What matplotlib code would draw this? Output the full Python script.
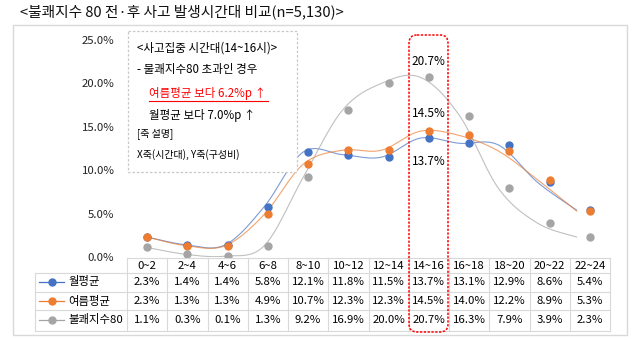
import numpy as np
import matplotlib
matplotlib.use("Agg")
import matplotlib.pyplot as plt
from matplotlib.patches import Rectangle, FancyBboxPatch
from matplotlib.lines import Line2D
from matplotlib.transforms import blended_transform_factory

plt.rcParams['font.family'] = ['Noto Sans CJK KR', 'DejaVu Sans']

categories = ["0~2", "2~4", "4~6", "6~8", "8~10", "10~12", "12~14",
              "14~16", "16~18", "18~20", "20~22", "22~24"]
monthly_avg = [2.3, 1.4, 1.4, 5.8, 12.1, 11.8, 11.5, 13.7, 13.1, 12.9, 8.6, 5.4]
summer_avg = [2.3, 1.3, 1.3, 4.9, 10.7, 12.3, 12.3, 14.5, 14.0, 12.2, 8.9, 5.3]
di80 = [1.1, 0.3, 0.1, 1.3, 9.2, 16.9, 20.0, 20.7, 16.3, 7.9, 3.9, 2.3]
series_names = ["월평균", "여름평균", "불쾌지수80"]
yticks = [0, 5, 10, 15, 20, 25]

colors = ["#4472C4", "#ED7D31", "#A5A5A5"]
series = [monthly_avg, summer_avg, di80]

W, H = 636, 340
fig = plt.figure(figsize=(W / 100, H / 100), dpi=100)

# pixel overlay axes (x: 0..W, y: 0..H top-down)
pax = fig.add_axes([0, 0, 1, 1], zorder=10)
pax.set_xlim(0, W)
pax.set_ylim(H, 0)
pax.axis("off")
pax.patch.set_alpha(0)

def fx(x):
    return x / W

def fy(y):
    return 1 - y / H

# outer border
fig.patches.append(Rectangle((fx(13), fy(335)), fx(614), (335 - 25) / H,
                             transform=fig.transFigure, fill=False,
                             edgecolor="#D9D9D9", lw=1.0, zorder=0))

fig.text(fx(20), fy(12), "<불쾌지수 80 전·후 사고 발생시간대 비교(n=5,130)>",
         fontsize=10.6, va="center", ha="left", color="#111111")

ax = fig.add_axes([fx(127), fy(257), 483 / W, (257 - 40) / H])
ax.set_xlim(-0.5, 11.5)
ax.set_ylim(0, 25)
for s in ax.spines.values():
    s.set_visible(False)
ax.set_xticks([])
ax.set_yticks(yticks)
ax.set_yticklabels([f"{v:.1f}%" for v in yticks], fontsize=8.2, color="#222222")
ax.tick_params(axis="y", length=0, pad=9)
ax.patch.set_alpha(0)


def smooth(xs, ys, n=24):
    xs = np.asarray(xs, float)
    ys = np.asarray(ys, float)
    P = np.column_stack([xs, ys])
    out = []
    for i in range(len(P) - 1):
        p0 = P[i - 1] if i > 0 else P[i]
        p1 = P[i]
        p2 = P[i + 1]
        p3 = P[i + 2] if i + 2 < len(P) else P[i + 1]
        c1 = p1 + (p2 - p0) / 6
        c2 = p2 - (p3 - p1) / 6
        t = np.linspace(0, 1, n)[:, None]
        b = ((1 - t) ** 3) * p1 + 3 * ((1 - t) ** 2) * t * c1 + 3 * (1 - t) * t ** 2 * c2 + t ** 3 * p2
        out.append(b if i == 0 else b[1:])
    B = np.vstack(out)
    return B[:, 0], B[:, 1]

xi = np.arange(len(categories))
line_scale = 0.97
for vals, c in zip(series, colors):
    sx, sy = smooth(xi * line_scale, vals)
    ax.plot(sx, sy, color=c, lw=0.8, alpha=0.7, zorder=2)
    ax.plot(xi, vals, "o", color=c, ms=5, zorder=3, mec=c)

# annotations at 14~16
k = categories.index("14~16")
ax.text(k, di80[k] + 1.8, f"{di80[k]:.1f}%", ha="center", va="center", fontsize=8.5)
ax.text(k, summer_avg[k] + 2.0, f"{summer_avg[k]:.1f}%", ha="center", va="center", fontsize=8.5)
ax.text(k, monthly_avg[k] - 2.7, f"{monthly_avg[k]:.1f}%", ha="center", va="center", fontsize=8.5)

# text box
pax.add_patch(Rectangle((128, 31), 297 - 128, 172 - 31, facecolor="white",
                        edgecolor="#C8C8C8", lw=0.9, ls=(0, (2, 1.5)), zorder=4))
tb = dict(fontsize=8.3, va="center", ha="left", zorder=5)
pax.text(137, 48, "<사고집중 시간대(14~16시)>", **tb)
pax.text(137, 70, "- 불쾌지수80 초과인 경우", **tb)
pax.text(149, 94, "여름평균 보다 6.2%p ↑", color="#FF0000", **tb)
pax.text(149, 115, "월평균 보다 7.0%p ↑", **tb)
pax.text(137, 134, "[축 설명]", **dict(tb, fontsize=7.2))
pax.text(137, 155, "X축(시간대), Y축(구성비)", **dict(tb, fontsize=7.2))
pax.plot([149, 268], [101, 101], color="#FF0000", lw=0.8, zorder=5)

# table
tr = blended_transform_factory(ax.transData, fig.transFigure)
grid_c = "#D9D9D9"
row_y = [258, 273, 292, 310, 331]
for b in range(len(categories) + 1):
    xb = b - 0.5
    fig.lines.append(Line2D([xb, xb], [fy(258), fy(331)], transform=tr, color=grid_c, lw=0.8))
fig.lines.append(Line2D([fx(35), fx(35)], [fy(273), fy(331)], transform=fig.transFigure,
                        color=grid_c, lw=0.8))
fig.lines.append(Line2D([-0.5, 11.5], [fy(258), fy(258)], transform=tr, color=grid_c, lw=0.8))
for yy in row_y[1:]:
    fig.lines.append(Line2D([fx(35), fx(610)], [fy(yy), fy(yy)], transform=fig.transFigure,
                            color=grid_c, lw=0.8))

for i, cat in enumerate(categories):
    fig.text(i, fy(266), cat, transform=tr, ha="center", va="center", fontsize=8.2)
row_centers = [282, 301, 320]
for r, (vals, c, name) in enumerate(zip(series, colors, series_names)):
    yc = fy(row_centers[r])
    for i, v in enumerate(vals):
        fig.text(i, yc, f"{v:.1f}%", transform=tr, ha="center", va="center", fontsize=8.2)
    fig.lines.append(Line2D([fx(39), fx(64)], [yc, yc], transform=fig.transFigure, color=c, lw=0.9))
    fig.lines.append(Line2D([fx(52)], [yc], transform=fig.transFigure, color=c, marker="o", ms=5))
    fig.text(fx(68), yc, name, ha="left", va="center", fontsize=8.2)

# red highlight box
pax.add_patch(FancyBboxPatch((409, 35), 448 - 409, 332 - 35,
                             boxstyle="round,pad=0,rounding_size=8",
                             fill=False, edgecolor="#FF0000", lw=1.1,
                             ls=(0, (1.5, 1)), zorder=6))

fig.savefig("out.png", dpi=100)
